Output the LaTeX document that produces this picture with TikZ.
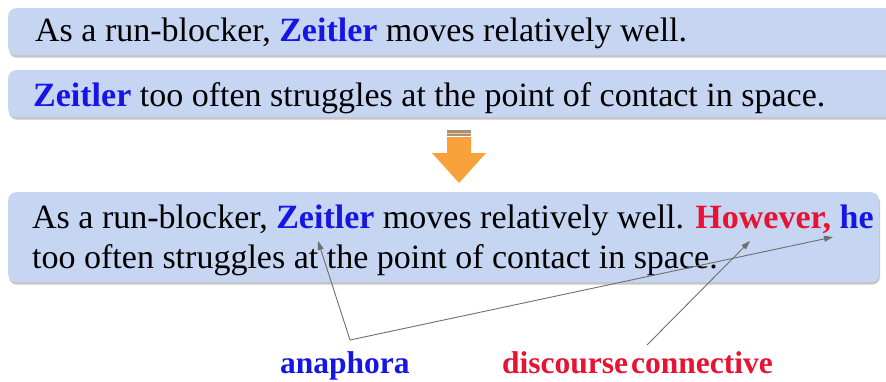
\documentclass[tikz,border=0pt]{standalone}
\usepackage{fontspec}
\setmainfont{Liberation Serif}
\usetikzlibrary{arrows.meta,shadows}
\definecolor{boxblue}{RGB}{198,214,242}
\definecolor{refblue}{RGB}{22,22,228}
\definecolor{connred}{RGB}{232,18,50}
\definecolor{flow}{RGB}{249,162,60}
\definecolor{stripe}{RGB}{165,145,125}
\definecolor{linkgray}{RGB}{110,110,110}

\begin{document}
\begin{tikzpicture}[x=1pt,y=-1pt,
    every node/.style={font=\fontsize{34}{41}\selectfont,inner sep=0pt},
    sent/.style={fill=boxblue,rounded corners=8pt,anchor=north west,
      drop shadow={shadow xshift=0.8pt,shadow yshift=-2.5pt,opacity=0.45}},
    tag/.style={anchor=base west,font=\fontsize{31.5}{38}\selectfont\bfseries},
    link/.style={draw=linkgray,line width=0.9pt,-{Triangle[length=9pt,width=6pt]}}]
  \useasboundingbox (0,0) rectangle (886,381);
  % Two separate sentences
  \node[sent,minimum width=890,minimum height=47] (box1) at (8,8) {};
  \node[anchor=base west] (s1) at (35,41)
    {As a run-blocker, \textcolor{refblue}{\textbf{Zeitler}} moves relatively well.};
  \node[sent,minimum width=890,minimum height=47] (box2) at (8,70) {};
  \node[anchor=base west] (s2) at (33,106)
    {\textcolor{refblue}{\textbf{Zeitler}} too often struggles at the point of contact in space.};
  % Down arrow with stripes
  \fill[stripe] (447,130) rectangle (471,132.5);
  \fill[flow!60] (447,132.5) rectangle (471,134);
  \fill[stripe] (447,134) rectangle (471,136);
  \fill[flow] (447,137) -- (471,137) -- (471,153) -- (486,153) -- (459,183)
    -- (432,153) -- (447,153) -- cycle;
  % Merged sentence
  \node[sent,minimum width=871,minimum height=90] (box3) at (8,192) {};
  \node[anchor=base west] (s3a) at (32,228)
    {As a run-blocker, \textcolor{refblue}{\textbf{Zeitler}} moves relatively well.
     \textcolor{connred}{\textbf{However,}} \textcolor{refblue}{\textbf{he}}};
  \node[anchor=base west] (s3b) at (32,268)
    {too often struggles at the point of contact in space.};
  % Labels and links
  \node[tag,text=refblue] (ana) at (280,373) {anaphora};
  \node[tag,text=connred] (conn) at (502,373) {discourse\hspace{3pt}connective};
  \coordinate (apex) at (350,340);
  \coordinate (zref) at (318,241);
  \coordinate (heref) at (833,237);
  \coordinate (cstart) at (647,345);
  \coordinate (cref) at (750,241);
  \draw[link] (apex) -- (zref);
  \draw[link] (apex) -- (heref);
  \draw[link] (cstart) -- (cref);
\end{tikzpicture}
\end{document}
